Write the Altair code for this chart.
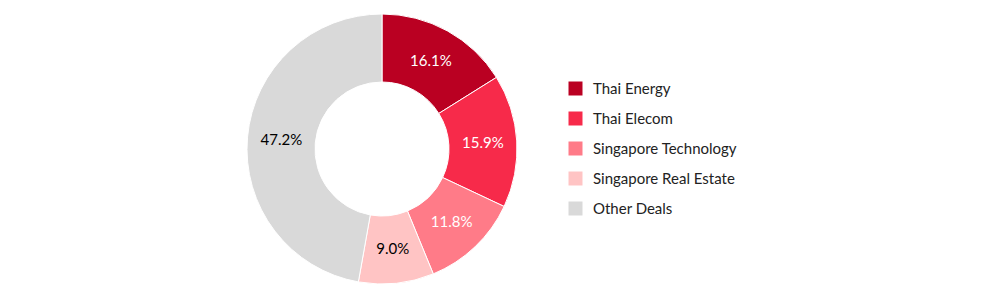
import altair as alt
import pandas as pd

categories = ["Thai Energy", "Thai Elecom", "Singapore Technology", "Singapore Real Estate", "Other Deals"]
values = [16.1, 15.9, 11.8, 9.0, 47.2]
labels = ["16.1%", "15.9%", "11.8%", "9.0%", "47.2%"]
colors = ["#BA0022", "#F72A4A", "#FF7B88", "#FFC4C4", "#D9D9D9"]
label_colors = ["white", "white", "white", "black", "black"]

df = pd.DataFrame({
    "category": categories,
    "value": values,
    "label": labels,
    "order": list(range(len(categories))),
    "tcolor": label_colors,
})

base = alt.Chart(df).encode(
    theta=alt.Theta("value:Q", stack=True),
    order=alt.Order("order:Q", sort="ascending"),
    x=alt.value(382),
    y=alt.value(149),
)

arcs = base.mark_arc(outerRadius=135, innerRadius=67, stroke="white", strokeWidth=1).encode(
    color=alt.Color(
        "category:N",
        scale=alt.Scale(domain=categories, range=colors),
        sort=categories,
        legend=alt.Legend(
            title=None,
            orient="none",
            legendX=568,
            legendY=81,
            symbolType="square",
            symbolSize=196,
            symbolStrokeWidth=0,
            labelFontSize=15,
            labelFont="Lato",
            labelColor="#222222",
            labelOffset=10,
            rowPadding=14,
            symbolOffset=0,
        ),
    )
)

texts = base.mark_text(radius=101, fontSize=15, font="Lato").encode(
    text="label:N",
    color=alt.Color("tcolor:N", scale=None),
)

chart = alt.layer(arcs, texts).properties(
    width=1000, height=300, padding=0,
    autosize=alt.AutoSizeParams(type="none"),
).configure_view(stroke=None)

chart.save("out.html", embed_options={"renderer": "svg", "actions": False})
